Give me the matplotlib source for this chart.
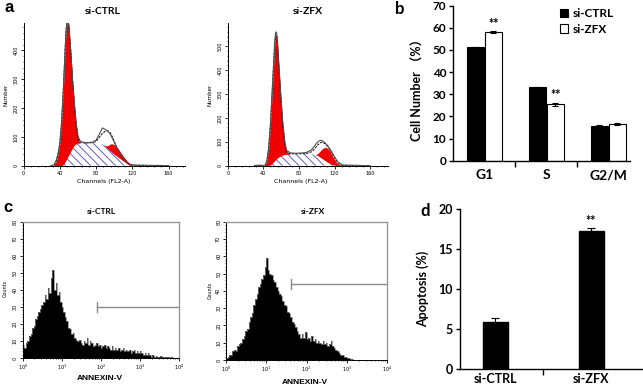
import numpy as np
import matplotlib
matplotlib.use("Agg")
import matplotlib.pyplot as plt
from matplotlib.patches import Patch
from matplotlib.ticker import MultipleLocator

# ---- panel a: cell cycle histograms (channel, height) ----
a_ch_ctrl = [30, 32, 34, 36, 38, 40, 42, 44, 46, 47, 48, 49, 50, 52, 54, 56, 58, 60, 62, 64, 68,
             72, 76, 80, 84, 87, 90, 93, 96, 99, 102, 105, 108, 111, 114, 117, 120, 125, 130, 140, 150, 160]
a_s_ctrl = [0, 0, 0, 0, 0, 0, 0, 5, 14, 20, 26, 32, 38, 50, 62, 72, 76, 78, 79, 80, 80,
            80, 79, 78, 77, 74, 66, 58, 50, 42, 35, 28, 21, 14, 7, 1, 0, 0, 0, 0, 0, 0]
a_g1_ctrl = [0, 0, 4, 15, 38, 75, 150, 265, 396, 450, 472, 468, 447, 350, 238, 143, 69, 17, 1, 0, 0,
             0, 0, 0, 0, 0, 0, 0, 0, 0, 0, 0, 0, 0, 0, 0, 0, 0, 0, 0, 0, 0]
a_g2_ctrl = [0, 0, 0, 0, 0, 0, 0, 0, 0, 0, 0, 0, 0, 0, 0, 0, 0, 0, 0, 0, 0,
             0, 0, 0, 0, 0, 3, 12, 26, 33, 32, 28, 21, 15, 10, 5, 1, 0, 0, 0, 0, 0]
a_data_ctrl = [0, 1, 5, 18, 40, 78, 152, 272, 412, 472, 500, 502, 487, 402, 302, 218, 150, 105, 88, 83, 80,
               80, 82, 88, 112, 131, 126, 120, 108, 88, 68, 50, 35, 22, 12, 6, 3, 2, 2, 1, 1, 0]
a_fit_ctrl = [0, 0, 4, 15, 38, 75, 150, 270, 410, 470, 498, 500, 485, 400, 300, 215, 145, 95, 80, 80, 79,
              79, 80, 84, 100, 112, 119, 121, 113, 92, 70, 50, 34, 21, 11, 5, 2, 1, 1, 0, 0, 0]

a_ch_zfx = [30, 34, 38, 40, 42, 44, 46, 48, 50, 52, 53, 54, 55, 56, 58, 60, 62, 64, 66, 70, 76, 82,
            88, 94, 98, 100, 102, 104, 106, 108, 110, 112, 114, 116, 118, 120, 122, 124, 127, 130, 140, 150, 160]
a_s_zfx = [0, 0, 0, 0, 0, 0, 0, 3, 10, 18, 22, 26, 30, 33, 38, 42, 45, 47, 48, 49, 50, 50,
           49, 48, 46, 44, 40, 35, 30, 25, 20, 15, 11, 7, 4, 2, 0, 0, 0, 0, 0, 0, 0]
a_g1_zfx = [0, 0, 0, 0, 0, 20, 70, 167, 300, 432, 493, 522, 512, 472, 342, 223, 120, 48, 10, 0, 0, 0,
            0, 0, 0, 0, 0, 0, 0, 0, 0, 0, 0, 0, 0, 0, 0, 0, 0, 0, 0, 0, 0]
a_g2_zfx = [0, 0, 0, 0, 0, 0, 0, 0, 0, 0, 0, 0, 0, 0, 0, 0, 0, 0, 0, 0, 0, 0,
            0, 0, 0, 4, 14, 27, 40, 50, 57, 58, 55, 46, 34, 24, 15, 8, 3, 0, 0, 0, 0]
a_data_zfx = [1, 2, 2, 1, 2, 22, 74, 175, 318, 462, 530, 560, 555, 515, 392, 275, 175, 105, 65, 54, 52, 53,
              55, 66, 85, 95, 102, 106, 105, 100, 93, 85, 75, 63, 50, 37, 25, 15, 7, 3, 2, 1, 0]
a_fit_zfx = [0, 0, 0, 0, 0, 20, 70, 170, 310, 450, 515, 548, 542, 505, 380, 265, 165, 93, 58, 49, 50, 50,
             50, 58, 72, 82, 90, 96, 98, 95, 90, 82, 72, 60, 47, 34, 22, 13, 5, 1, 0, 0, 0]

# ---- panel b: cell cycle distribution ----
phases = ["G1", "S", "G2/M"]
ctrl_pct = [51.2, 33.1, 15.6]
zfx_pct = [58.0, 25.5, 16.5]
ctrl_err = [0.3, 0.3, 0.5]
zfx_err = [0.4, 0.7, 0.5]
zfx_sig = ["**", "**", ""]

# ---- panel c: annexin-V histograms, 100 log bins from 10^0 to 10^4 ----
c_counts_ctrl = [8, 6, 9, 10, 13, 14, 18, 19, 23, 25, 27, 29, 31, 33, 37, 35, 41, 38, 47, 52,
                 40, 44, 37, 39, 33, 30, 27, 24, 22, 18, 17, 14, 15, 12, 11, 10, 11, 9, 8, 10,
                 9, 12, 8, 10, 9, 7, 8, 9, 7, 8, 6, 7, 8, 6, 7, 6, 5, 7, 5, 6,
                 5, 6, 4, 5, 6, 4, 5, 4, 5, 3, 4, 5, 3, 4, 3, 4, 3, 2, 3, 2,
                 3, 2, 1, 2, 1, 1.5, 1, 1, 1.5, 0.5, 1, 0.5, 0.5, 0.8, 0.3, 0.5, 0.3, 0.2, 0.3, 0]
c_counts_zfx = [1, 2, 3, 3, 5, 6, 5, 8, 9, 10, 12, 14, 17, 18, 22, 25, 27, 32, 35, 38,
                42, 44, 47, 49, 54, 59, 52, 50, 49, 46, 45, 42, 40, 38, 37, 34, 32, 31, 28, 27,
                25, 22, 21, 19, 17, 15, 13, 15, 13, 16, 12, 13, 11, 14, 11, 12, 10, 11, 10, 9,
                11, 9, 10, 8, 9, 11, 8, 7, 6, 5, 4, 3, 3, 2, 2, 1, 1, 0.5, 0.3, 0,
                0, 0, 0, 0, 0, 0, 0, 0, 0, 0, 0, 0, 0, 0, 0, 0, 0, 0, 0, 0]
gate_ctrl = [78, 30]   # start channel, counts level
gate_zfx = [41, 44]

# ---- panel d: apoptosis ----
groups = ["si-CTRL", "si-ZFX"]
apop_pct = [5.9, 17.3]
apop_err = [0.5, 0.35]
apop_sig = ["", "**"]

plt.rcParams["font.family"] = ["DejaVu Sans", "Noto Sans CJK SC"]
plt.rcParams["hatch.linewidth"] = 0.6
CAL = ["Lato", "Noto Sans CJK SC"]

W, H = 643, 388
fig = plt.figure(figsize=(W / 100, H / 100), dpi=100)


def add_ax(l, t, r, b):
    return fig.add_axes([l / W, 1 - b / H, (r - l) / W, (b - t) / H])


def ftext(x, y, s, **kw):
    fig.text(x / W, 1 - y / H, s, **kw)


def cycle_panel(ax, ch, s, g1, g2, data, fit, xmax, ymax, yticks):
    ch, s, g1, g2 = map(np.asarray, (ch, s, g1, g2))
    ax.fill_between(ch, 0, s, facecolor="white", edgecolor="#4646c8",
                    hatch="\\\\\\\\", lw=0)
    for g in (g1, g2):
        m = np.convolve(g > 0, [1, 1, 1], "same") > 0
        ax.fill_between(ch, s, s + g, where=m, color="#f00000", lw=0)
    ax.plot(ch, fit, color="black", lw=0.7, dashes=(2.5, 1.2))
    ax.plot(ch, data, color="#505050", lw=0.8)
    ax.set_xlim(0, xmax)
    ax.set_ylim(0, ymax)
    ax.set_xticks([0, 40, 80, 120, 160])
    ax.set_yticks(yticks)
    ax.xaxis.set_minor_locator(MultipleLocator(8))
    ax.yaxis.set_minor_locator(MultipleLocator(20))
    for sp in ("top", "right"):
        ax.spines[sp].set_visible(False)
    for sp in ("left", "bottom"):
        ax.spines[sp].set_linewidth(0.7)
    ax.tick_params(which="major", length=2, width=0.6, labelsize=3.5, pad=1.5)
    ax.tick_params(which="minor", length=1, width=0.5)
    ax.tick_params(axis="y", labelrotation=90)
    for t in ax.get_yticklabels():
        t.set_va("center")


def annexin_panel(ax, counts, gate):
    edges = np.logspace(0, 4, len(counts) + 1)
    ax.stairs(counts, edges, fill=True, color="black")
    ax.stairs(counts, edges, color="#808080", lw=0.5)
    ax.plot([gate[0], 1e4], [gate[1], gate[1]], color="#8a8a8a", lw=1)
    ax.plot([gate[0], gate[0]], [gate[1] - 3, gate[1] + 3], color="#8a8a8a", lw=1)
    ax.set_xscale("log")
    ax.set_xlim(1, 1e4)
    ax.set_ylim(0, 80)
    ax.set_yticks(range(0, 81, 10))
    ax.yaxis.set_minor_locator(MultipleLocator(2))
    for sp in ("top", "right"):
        ax.spines[sp].set_color("#9a9a9a")
        ax.spines[sp].set_linewidth(1)
    for sp in ("left", "bottom"):
        ax.spines[sp].set_linewidth(0.7)
    ax.tick_params(which="major", length=2, width=0.6, labelsize=3.5, pad=1.5)
    ax.tick_params(which="minor", length=1, width=0.5)
    ax.tick_params(axis="y", labelrotation=90)
    for t in ax.get_yticklabels():
        t.set_va("center")


# panel a
ax1 = add_ax(23.5, 23, 185, 165.7)
cycle_panel(ax1, a_ch_ctrl, a_s_ctrl, a_g1_ctrl, a_g2_ctrl, a_data_ctrl, a_fit_ctrl,
            178, 495, [0, 100, 200, 300, 400])
ax2 = add_ax(227.7, 23, 388, 165.7)
cycle_panel(ax2, a_ch_zfx, a_s_zfx, a_g1_zfx, a_g2_zfx, a_data_zfx, a_fit_zfx,
            180, 597, [0, 100, 200, 300, 400, 500])
ftext(9, 7, "a", fontsize=12, fontweight="bold", family="Liberation Sans", ha="center", va="center")
ftext(103, 12, "si-CTRL", fontsize=7.5, fontweight="bold", family=CAL, ha="center", va="center")
ftext(308, 12, "si-ZFX", fontsize=7.5, fontweight="bold", family=CAL, ha="center", va="center")
ftext(6, 95, "Number", fontsize=4, rotation=90, ha="center", va="center")
ftext(210, 95, "Number", fontsize=4, rotation=90, ha="center", va="center")
ftext(104, 182, "Channels (FL2-A)", fontsize=4.5, ha="center", va="center")
ftext(301, 182, "Channels (FL2-A)", fontsize=4.5, ha="center", va="center")

# panel b
axb = add_ax(453.3, 5.7, 630, 160.7)
x = np.arange(len(phases))
w = 0.28
ekw = dict(ecolor="black", capsize=2, elinewidth=0.8, capthick=0.8)
axb.bar(x - 0.145, ctrl_pct, w, yerr=ctrl_err, color="black", edgecolor="black", lw=0.8, error_kw=ekw)
axb.bar(x + 0.145, zfx_pct, w, yerr=zfx_err, color="white", edgecolor="black", lw=0.8, error_kw=ekw)
for xi, v, e, s in zip(x, zfx_pct, zfx_err, zfx_sig):
    if s:
        axb.text(xi + 0.145, v + e + 0.6, s, ha="center", va="bottom", fontsize=9,
                 fontweight="bold", family=CAL)
axb.set_xlim(-0.5, 2.35)
axb.set_ylim(0, 70)
axb.set_yticks(range(0, 71, 10))
axb.set_xticks(x)
axb.set_xticklabels(phases, fontsize=10, fontweight="bold", family=CAL)
axb.set_xticks([0.5, 1.5], minor=True)
axb.tick_params(axis="x", which="major", length=0, pad=6)
axb.tick_params(axis="x", which="minor", length=4, width=1)
axb.tick_params(axis="y", length=3, width=1, pad=2)
for t in axb.get_yticklabels():
    t.set_fontsize(8.5)
    t.set_fontweight("bold")
    t.set_family(CAL)
for sp in ("top", "right"):
    axb.spines[sp].set_visible(False)
for sp in ("left", "bottom"):
    axb.spines[sp].set_linewidth(1)
ftext(418, 87, "Cell Number （%）", fontsize=9, fontweight="bold", family=CAL,
      rotation=90, ha="center", va="center")
ftext(400, 9, "b", fontsize=12, fontweight="bold", family=CAL, ha="center", va="center")
handles = [Patch(facecolor="black", edgecolor="black", lw=0.8),
           Patch(facecolor="white", edgecolor="black", lw=0.8)]
fig.legend(handles, ["si-CTRL", "si-ZFX"], loc="upper left", bbox_to_anchor=(560 / W, 1 - 8 / H),
           frameon=False, handlelength=0.7, handleheight=0.7, handletextpad=0.35,
           labelspacing=0.4, borderaxespad=0, borderpad=0,
           prop=dict(family=CAL, weight="bold", size=8.5))

# panel c
axc1 = add_ax(22.7, 221.7, 179, 358.3)
annexin_panel(axc1, c_counts_ctrl, gate_ctrl)
axc2 = add_ax(226, 221.7, 387, 360)
annexin_panel(axc2, c_counts_zfx, gate_zfx)
ftext(8, 207, "c", fontsize=12, fontweight="bold", family="Liberation Sans", ha="center", va="center")
ftext(101, 212, "si-CTRL", fontsize=6, fontweight="bold", family=CAL, ha="center", va="center")
ftext(313, 212, "si-ZFX", fontsize=6, fontweight="bold", family=CAL, ha="center", va="center")
ftext(5, 288, "Counts", fontsize=3.5, rotation=90, ha="center", va="center")
ftext(210, 290, "Counts", fontsize=3.5, rotation=90, ha="center", va="center")
ftext(100, 379, "ANNEXIN-V", fontsize=6, fontweight="bold", family="Liberation Sans", ha="center", va="center")
ftext(305, 382, "ANNEXIN-V", fontsize=6, fontweight="bold", family="Liberation Sans", ha="center", va="center")

# panel d
axd = add_ax(460, 209, 643, 369)
xd = np.arange(len(groups))
axd.bar(xd, apop_pct, 0.26, yerr=apop_err, color="black", edgecolor="black",
        error_kw=dict(ecolor="black", capsize=3, elinewidth=0.8, capthick=0.8))
for xi, v, e, s in zip(xd, apop_pct, apop_err, apop_sig):
    if s:
        axd.text(xi, v + e + 0.1, s, ha="center", va="bottom", fontsize=9,
                 fontweight="bold", family=CAL)
axd.set_xlim(-0.365, 1.54)
axd.set_ylim(0, 20)
axd.set_yticks([0, 5, 10, 15, 20])
axd.set_xticks(xd)
axd.set_xticklabels(groups, fontsize=9, fontweight="bold", family=CAL)
axd.set_xticks([0.5], minor=True)
axd.tick_params(axis="x", which="major", length=0, pad=3)
axd.tick_params(axis="x", which="minor", length=4, width=1)
axd.tick_params(axis="y", length=3, width=1, pad=2)
for t in axd.get_yticklabels():
    t.set_fontsize(9)
    t.set_fontweight("bold")
    t.set_family(CAL)
for sp in ("top", "right"):
    axd.spines[sp].set_visible(False)
for sp in ("left", "bottom"):
    axd.spines[sp].set_linewidth(1)
ftext(423, 289, "Apoptosis (%)", fontsize=9, fontweight="bold", family=CAL,
      rotation=90, ha="center", va="center")
ftext(425, 211, "d", fontsize=12, fontweight="bold", family=CAL, ha="center", va="center")

fig.savefig("out.png", dpi=100)
